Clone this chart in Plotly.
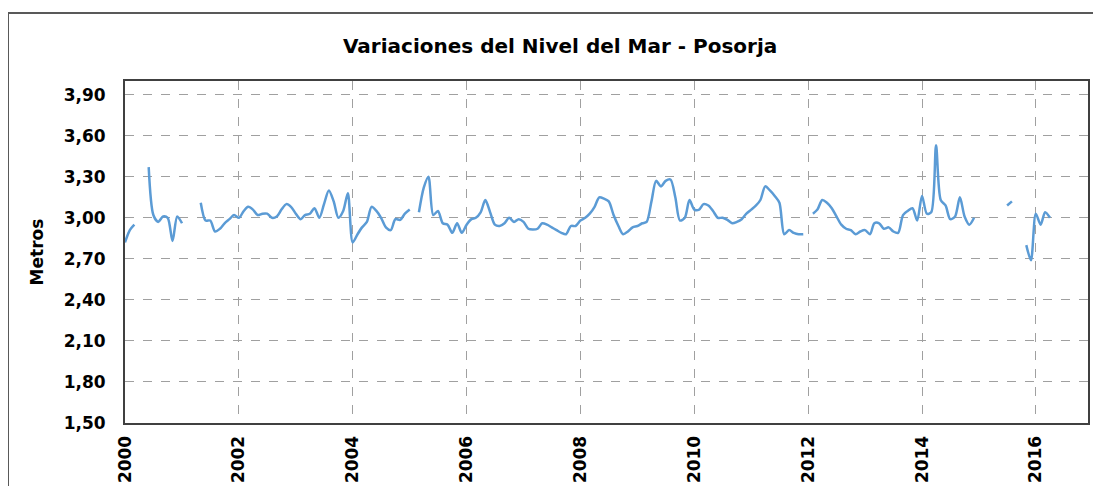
import plotly.graph_objects as go

# monthly sea level (m), Jan..Dec per year; None = no data
years = list(range(2000, 2017))
level_2000 = [2.82, 2.91, 2.95, None, None, 3.37, 3.02, 2.97, 3.01, 3.00, 2.83, 3.01]
level_2001 = [2.96, None, None, None, 3.11, 2.98, 2.98, 2.90, 2.92, 2.96, 2.99, 3.02]
level_2002 = [3.00, 3.05, 3.08, 3.06, 3.02, 3.03, 3.03, 3.00, 3.01, 3.06, 3.10, 3.08]
level_2003 = [3.03, 2.99, 3.02, 3.03, 3.07, 3.00, 3.10, 3.20, 3.12, 3.00, 3.05, 3.18]
level_2004 = [2.82, 2.88, 2.93, 2.97, 3.08, 3.05, 3.00, 2.93, 2.91, 2.99, 2.985, 3.03]
level_2005 = [3.06, None, 3.04, 3.22, 3.30, 3.02, 3.05, 2.96, 2.95, 2.89, 2.96, 2.89]
level_2006 = [2.95, 2.99, 3.00, 3.04, 3.13, 3.04, 2.95, 2.94, 2.96, 3.00, 2.97, 2.99]
level_2007 = [2.97, 2.92, 2.915, 2.92, 2.96, 2.95, 2.93, 2.91, 2.89, 2.88, 2.94, 2.94]
level_2008 = [2.98, 3.00, 3.03, 3.08, 3.15, 3.14, 3.12, 3.02, 2.94, 2.88, 2.90, 2.93]
level_2009 = [2.94, 2.96, 2.97, 3.12, 3.27, 3.23, 3.27, 3.28, 3.15, 2.98, 3.00, 3.13]
level_2010 = [3.06, 3.06, 3.10, 3.09, 3.05, 3.00, 3.00, 2.985, 2.96, 2.97, 2.99, 3.03]
level_2011 = [3.06, 3.09, 3.13, 3.23, 3.20, 3.16, 3.11, 2.88, 2.91, 2.89, 2.88, 2.88]
level_2012 = [None, 3.03, 3.06, 3.13, 3.11, 3.07, 3.01, 2.95, 2.92, 2.91, 2.88, 2.90]
level_2013 = [2.91, 2.88, 2.96, 2.96, 2.92, 2.93, 2.90, 2.89, 3.02, 3.05, 3.07, 2.98]
level_2014 = [3.16, 3.03, 3.04, 3.53, 3.13, 3.09, 2.99, 3.01, 3.15, 3.01, 2.95, 3.00]
level_2015 = [None, None, None, None, None, None, 3.09, 3.12, None, None, 2.80, 2.69]
level_2016 = [3.03, 2.95, 3.04, 3.00]

series = [level_2000, level_2001, level_2002, level_2003, level_2004, level_2005,
          level_2006, level_2007, level_2008, level_2009, level_2010, level_2011,
          level_2012, level_2013, level_2014, level_2015, level_2016]

dates, values = [], []
for y, vals in zip(years, series):
    for m, v in enumerate(vals, start=1):
        dates.append(f"{y}-{m:02d}-01")
        values.append(v)

y_ticks = [1.5 + 0.3 * i for i in range(9)]
x_ticks = [f"{y}-01-01" for y in range(2000, 2017, 2)]
x_labels = [str(y) for y in range(2000, 2017, 2)]

FONT = "DejaVu Sans"

fig = go.Figure(
    go.Scatter(
        x=dates,
        y=values,
        mode="lines",
        line=dict(color="#5B9BD5", width=2.5, shape="spline", smoothing=0.8),
        connectgaps=False,
    )
)

# the page body adds an 8px offset, so margins are trimmed on the left/top
fig.update_layout(
    width=1101,
    height=486,
    paper_bgcolor="white",
    plot_bgcolor="white",
    separators=",.",
    showlegend=False,
    margin=dict(l=117, r=21, t=73, b=71, autoexpand=False),
    font=dict(family=FONT, color="#000000"),
    title=dict(
        text="<b>Variaciones del Nivel del Mar - Posorja</b>",
        x=0.5015, xanchor="center", y=0.922, yanchor="middle",
        font=dict(size=20, family=FONT, color="#000000"),
    ),
    shapes=[
        dict(type="rect", xref="paper", yref="paper",
             x0=-0.1215, x1=1.0125, y0=-0.3, y1=1.1988,
             line=dict(color="#595959", width=2), layer="below"),
    ],
)

fig.update_xaxes(
    type="date",
    range=["2000-01-01", "2016-12-01"],
    tickvals=x_ticks,
    ticktext=x_labels,
    tickangle=-90,
    tickfont=dict(size=17, family=FONT, color="#000000", weight="bold"),
    ticklabelstandoff=4,
    automargin=False,
    showgrid=True,
    gridcolor="#A0A0A0",
    griddash="dash",
    gridwidth=1,
    showline=True,
    linecolor="#404040",
    linewidth=2,
    mirror=True,
    ticks="",
    zeroline=False,
)

fig.update_yaxes(
    range=[1.5, 4.0],
    tickvals=y_ticks,
    tickformat=".2f",
    tickfont=dict(size=17, family=FONT, color="#000000", weight="bold"),
    ticklabelstandoff=14,
    automargin=False,
    title=dict(text="<b>Metros</b>", font=dict(size=17, family=FONT, color="#000000"), standoff=16),
    showgrid=True,
    gridcolor="#A0A0A0",
    griddash="dash",
    gridwidth=1,
    showline=True,
    linecolor="#404040",
    linewidth=2,
    mirror=True,
    ticks="",
    zeroline=False,
)

fig.write_html("out.html")
